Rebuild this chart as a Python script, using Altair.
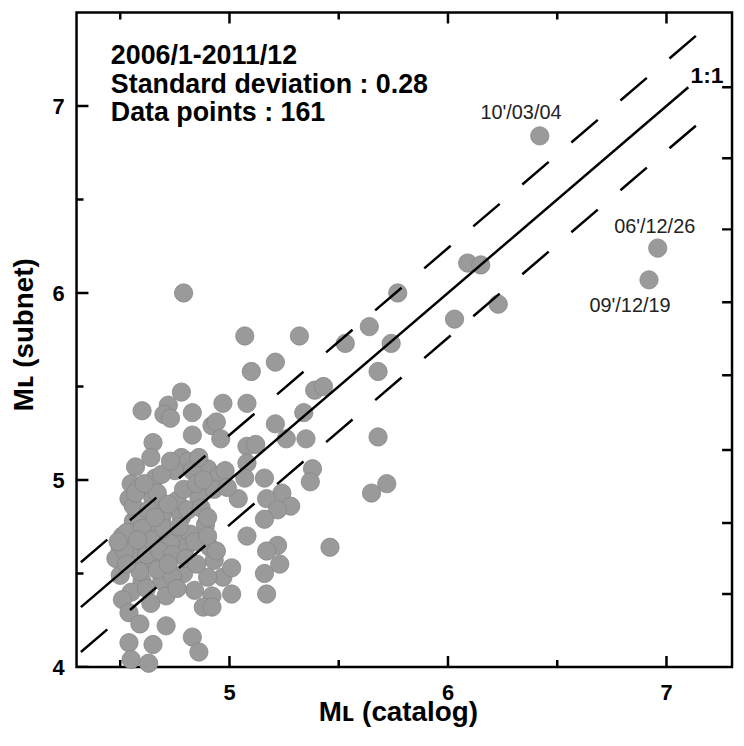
import altair as alt
import pandas as pd

# ---------------- data ----------------
ml_catalog = [
    6.42, 6.96, 6.92, 6.09, 6.15, 5.77, 4.79, 5.64, 6.03, 6.23,
    5.74, 5.68, 5.32, 5.53, 5.07, 5.21, 5.10, 4.78, 4.60, 4.72,
    4.70, 4.73, 4.83, 4.97, 5.08, 4.92, 4.94, 4.83, 4.96, 5.21,
    4.65, 5.08, 5.12, 4.64, 4.57, 4.78, 4.81, 5.08, 4.90, 4.75,
    4.83, 4.95, 4.55, 4.66, 5.07, 5.16, 5.39, 5.43, 5.34, 5.26,
    5.35, 5.68, 5.38, 5.37, 5.72, 5.65, 5.24, 5.17, 5.28, 5.22,
    5.16, 5.22, 5.17, 5.23, 5.16, 5.46, 5.17, 5.08, 4.54, 4.65,
    4.76, 4.86, 4.93, 5.04, 4.56, 4.58, 4.69, 4.78, 4.89, 4.51,
    4.55, 4.61, 4.66, 4.75, 4.82, 4.80, 4.73, 4.91, 4.50, 4.48,
    4.57, 4.65, 4.79, 4.93, 4.97, 5.01, 4.50, 4.60, 4.69, 4.55,
    4.71, 4.84, 4.92, 5.01, 4.51, 4.88, 4.92, 4.54, 4.59, 4.71,
    4.83, 4.86, 4.54, 4.65, 4.55, 4.63, 4.70,
    4.52, 4.53, 4.56, 4.58, 4.60, 4.62, 4.63, 4.64, 4.67, 4.68,
    4.70, 4.72, 4.74, 4.77, 4.79, 4.81, 4.84, 4.85, 4.87, 4.90,
    4.59, 4.62, 4.67, 4.74, 4.53, 4.49, 4.57, 4.61, 4.69, 4.73,
    4.86, 4.88, 4.98, 4.99, 4.90, 4.94, 4.90, 4.76, 4.64, 4.80,
    4.72, 4.58, 4.66, 4.85,
]
ml_subnet = [
    6.84, 6.24, 6.07, 6.16, 6.15, 6.00, 6.00, 5.82, 5.86, 5.94,
    5.73, 5.58, 5.77, 5.73, 5.77, 5.63, 5.58, 5.47, 5.37, 5.40,
    5.35, 5.33, 5.36, 5.41, 5.41, 5.29, 5.31, 5.24, 5.22, 5.30,
    5.20, 5.18, 5.19, 5.12, 5.07, 5.12, 5.10, 5.09, 5.06, 5.05,
    5.05, 5.02, 4.98, 5.01, 5.01, 5.01, 5.48, 5.50, 5.36, 5.22,
    5.22, 5.23, 5.06, 4.99, 4.98, 4.93, 4.93, 4.90, 4.86, 4.84,
    4.79, 4.65, 4.62, 4.55, 4.50, 4.64, 4.39, 4.70, 4.90, 4.90,
    4.89, 4.91, 4.95, 4.90, 4.78, 4.81, 4.78, 4.80, 4.76, 4.70,
    4.68, 4.65, 4.71, 4.71, 4.71, 4.64, 4.66, 4.64, 4.63, 4.58,
    4.58, 4.56, 4.50, 4.57, 4.48, 4.53, 4.49, 4.46, 4.46, 4.40,
    4.38, 4.41, 4.38, 4.39, 4.36, 4.32, 4.32, 4.29, 4.23, 4.22,
    4.16, 4.08, 4.13, 4.12, 4.04, 4.02, 4.83,
    4.62, 4.72, 4.86, 4.95, 4.74, 4.60, 4.84, 4.68, 4.93, 4.62,
    4.74, 4.87, 4.60, 4.75, 4.95, 4.84, 4.67, 4.98, 4.85, 4.70,
    4.51, 4.42, 4.52, 4.48, 4.55, 4.67, 4.93, 4.98, 5.03, 5.10,
    5.12, 5.00, 5.05, 4.96, 4.80, 4.62, 4.48, 4.42, 4.34, 4.58,
    4.55, 4.68, 4.80, 4.55,
]

one_x = [4.32, 7.10]
one_y = [4.32, 7.10]
upper_x = [4.32, 7.17]
upper_y = [4.56, 7.41]
lower_x = [4.32, 7.17]
lower_y = [4.08, 6.93]

stat_text = ["2006/1-2011/12", "Standard deviation : 0.28", "Data points : 161"]
stat_x = [4.457, 4.457, 4.457]
stat_y = [7.222, 7.071, 6.920]

event_text = ["10'/03/04", "06'/12/26", "09'/12/19"]
event_x = [6.334, 6.946, 6.833]
event_y = [6.931, 6.319, 5.899]

ratio_text = ["1:1"]
ratio_x = [7.261]
ratio_y = [7.122]

x_title = "Mʟ (catalog)"
y_title = "Mʟ (subnet)"

x_range = [4.3, 7.3]
y_range = [4.0, 7.5]
x_major = [5, 6, 7]
x_minor = [4.5, 5.5, 6.5]
y_major = [4, 5, 6, 7]
y_minor = [4.5, 5.5, 6.5]
right_ticks = [4.39, 4.77, 5.16, 5.56, 5.95, 6.34, 6.72, 7.10]

# ---------------- chart ----------------
F = "Liberation Sans, Arial, Helvetica, DejaVu Sans, sans-serif"
xs = alt.Scale(domain=x_range, nice=False, zero=False)
ys = alt.Scale(domain=y_range, nice=False, zero=False)


def enc(chart, text=False):
    kw = dict(x=alt.X("x:Q", scale=xs, axis=None),
              y=alt.Y("y:Q", scale=ys, axis=None))
    if text:
        kw["text"] = "t:N"
    return chart.encode(**kw)


pts = pd.DataFrame({"x": ml_catalog, "y": ml_subnet})
points = enc(alt.Chart(pts).mark_circle(
    size=340, color="#9a9a9a", opacity=1, stroke="#878787", strokeWidth=0.8))


def line(xv, yv, dash=None):
    kw = dict(color="black", strokeWidth=2.5)
    if dash:
        kw["strokeDash"] = dash
    return enc(alt.Chart(pd.DataFrame({"x": xv, "y": yv})).mark_line(**kw))


solid = line(one_x, one_y)
upper = line(upper_x, upper_y, [35, 30])
lower = line(lower_x, lower_y, [35, 30])


def texts(xv, yv, tv, **kw):
    kw.setdefault("baseline", "alphabetic")
    kw.setdefault("color", "black")
    return enc(alt.Chart(pd.DataFrame({"x": xv, "y": yv, "t": tv})).mark_text(
        font=F, **kw), text=True)


stats = texts(stat_x, stat_y, stat_text, align="left", fontSize=27, fontWeight="bold")
events = texts(event_x, event_y, event_text, align="center", fontSize=20,
               color="#222222")
ratio = texts(ratio_x, ratio_y, ratio_text, align="right", fontSize=23,
              fontWeight="bold")

# axis labels and titles (real text, placed on the frame edges through the scales)
x_labels = texts(x_major, [y_range[0]] * len(x_major), [str(v) for v in x_major],
                 align="center", fontSize=22, fontWeight="bold", yOffset=33)
y_labels = texts([x_range[0]] * len(y_major), y_major, [str(v) for v in y_major],
                 align="right", baseline="middle", fontSize=22, fontWeight="bold",
                 xOffset=-12, yOffset=1)
x_name = texts([sum(x_range) / 2], [y_range[0]], [x_title], align="center",
               fontSize=28, fontWeight="bold", xOffset=-6, yOffset=54)
y_name = texts([x_range[0]], [sum(y_range) / 2], [y_title], align="center",
               fontSize=28, fontWeight="bold", angle=270, xOffset=-44, yOffset=-5)


def ticks(xv, yv, orient, length):
    # tick centred on the frame edge; the outer half is clipped, so it points inward
    return enc(alt.Chart(pd.DataFrame({"x": xv, "y": yv})).mark_tick(
        orient=orient, size=2 * length, thickness=2.5, color="black",
        opacity=1, clip=True))


tick_layers = [
    ticks(x_major, [y_range[0]] * len(x_major), "vertical", 11),
    ticks(x_minor, [y_range[0]] * len(x_minor), "vertical", 7),
    ticks(x_major, [y_range[1]] * len(x_major), "vertical", 11),
    ticks(x_minor, [y_range[1]] * len(x_minor), "vertical", 7),
    ticks([x_range[0]] * len(y_major), y_major, "horizontal", 12),
    ticks([x_range[0]] * len(y_minor), y_minor, "horizontal", 7),
    ticks([x_range[1]] * len(right_ticks), right_ticks, "horizontal", 10),
]

chart = alt.layer(points, solid, upper, lower, stats, events, ratio,
                  x_labels, y_labels, x_name, y_name, *tick_layers).properties(
    width=660, height=659,
    autosize=alt.AutoSizeParams(type="none"),
    padding={"left": 69, "top": 2, "right": 4, "bottom": 63},
).configure_view(stroke="black", strokeWidth=2.5)

chart.save("out.html", embed_options={"renderer": "svg", "actions": False})
